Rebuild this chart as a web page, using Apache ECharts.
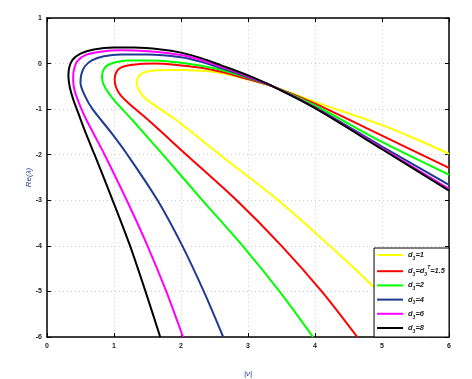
<!DOCTYPE html>
<html>
  <head>
    <meta charset="utf-8" />
    <title>Re(lambda) curves</title>
    <script src="https://cdnjs.cloudflare.com/ajax/libs/echarts/6.0.0/echarts.min.js"></script>
  </head>
  <body>
    <style>
      html, body { margin: 0; padding: 0; background: #fff; }
      #main { width: 472px; height: 379px; }
    </style>
    <div id="main"></div>
    <script type="text/javascript">

      // axis ticks
      var xTicks = [0, 1, 2, 3, 4, 5, 6];
      var yTicks = [-6, -5, -4, -3, -2, -1, 0, 1];

      // legend labels and colours
      var names = ['d3=1', 'd3=d3T=1.5', 'd3=2', 'd3=4', 'd3=6', 'd3=8'];
      var colors = ['#ffff00', '#ff0000', '#00ff00', '#1f3a93', '#ff00ff', '#000000'];

      // curves: bottom of lower branch -> nose -> upper branch to x=6
      var curveD1 = [[5.64,-6],[4.95,-5],[4.22,-4],[3.45,-3],[2.58,-2],[1.94,-1.25],[1.75,-1.06],
        [1.57,-0.88],[1.45,-0.74],[1.37,-0.58],[1.34,-0.42],[1.36,-0.3],[1.44,-0.2],[1.6,-0.15],
        [2.0,-0.14],[2.3,-0.16],[2.6,-0.21],[3.0,-0.35],[3.37,-0.5],[4.0,-0.84],[5.0,-1.35],
        [5.5,-1.65],[6.0,-1.98]];
      var curveD15 = [[4.63,-6],[4.1,-5],[3.5,-4],[2.83,-3],[2.08,-2],[1.52,-1.25],[1.24,-0.9],
        [1.1,-0.7],[1.03,-0.52],[1.01,-0.35],[1.03,-0.2],[1.1,-0.09],[1.25,-0.03],[1.6,0.0],
        [2.0,-0.04],[2.3,-0.09],[2.6,-0.18],[3.0,-0.34],[3.37,-0.5],[4.0,-0.88],[5.0,-1.58],[6.0,-2.29]];
      var curveD2 = [[3.97,-6],[3.47,-5],[2.92,-4],[2.32,-3],[1.73,-2],[1.28,-1.25],[1.03,-0.85],
        [0.92,-0.65],[0.85,-0.48],[0.82,-0.3],[0.84,-0.15],[0.9,-0.04],[1.02,0.03],[1.2,0.07],
        [1.6,0.07],[2.0,0.02],[2.3,-0.05],[2.6,-0.14],[3.0,-0.31],[3.37,-0.5],[4.0,-0.92],
        [5.0,-1.72],[6.0,-2.44]];
      var curveD4 = [[2.63,-6],[2.34,-5],[2.02,-4],[1.65,-3],[1.2,-2],[0.95,-1.5],[0.68,-1.0],
        [0.57,-0.72],[0.5,-0.42],[0.51,-0.25],[0.56,-0.07],[0.67,0.07],[0.85,0.16],[1.1,0.2],
        [1.5,0.2],[2.0,0.14],[2.3,0.04],[2.6,-0.1],[3.0,-0.3],[3.37,-0.5],[4.0,-0.96],
        [5.0,-1.82],[6.0,-2.66]];
      var curveD6 = [[2.03,-6],[1.78,-5],[1.5,-4],[1.19,-3],[0.86,-2],[0.7,-1.55],[0.56,-1.15],
        [0.46,-0.8],[0.41,-0.58],[0.39,-0.35],[0.4,-0.15],[0.45,0.05],[0.58,0.19],[0.8,0.26],
        [1.1,0.29],[1.5,0.27],[2.0,0.19],[2.3,0.08],[2.6,-0.07],[3.0,-0.28],[3.37,-0.5],
        [4.0,-0.97],[5.0,-1.86],[6.0,-2.75]];
      var curveD8 = [[1.69,-6],[1.47,-5],[1.24,-4],[0.98,-3],[0.71,-2],[0.585,-1.55],[0.47,-1.1],
        [0.39,-0.78],[0.34,-0.52],[0.32,-0.28],[0.33,-0.1],[0.38,0.08],[0.5,0.22],[0.7,0.31],
        [1.0,0.35],[1.3,0.35],[1.7,0.31],[2.0,0.24],[2.3,0.12],[2.6,-0.04],[3.0,-0.26],
        [3.37,-0.5],[4.0,-0.98],[5.0,-1.88],[6.0,-2.79]];

      var curves = [curveD1, curveD15, curveD2, curveD4, curveD6, curveD8];

      var chartDom = document.getElementById('main');
      var myChart = echarts.init(chartDom);

      var tickFont = { fontSize: 7, fontWeight: 'bold', color: '#222', fontFamily: 'Liberation Sans' };

      // d3 with a subscript 3 (and a T on the critical one)
      function legendText(name) {
        if (name === 'd3=d3T=1.5') {
          return '{i|d}{s|3}{i|=d}{s|3}{t|T}{i|=1.5}';
        }
        return '{i|d}{s|3}{i|=' + name.split('=')[1] + '}';
      }

      var series = curves.map(function (c, i) {
        return {
          name: names[i],
          type: 'line',
          data: c,
          showSymbol: false,
          symbol: 'none',
          smooth: 0.3,
          lineStyle: { color: colors[i], width: 2 },
          itemStyle: { color: colors[i] },
          z: 2 + i
        };
      });

      var frameAxis = {
        axisLine: { onZero: false, lineStyle: { color: '#000', width: 1.5 } },
        axisTick: { inside: true, length: 4, lineStyle: { color: '#000' } },
        axisLabel: { show: false },
        splitLine: { show: false }
      };

      var option = {
        animation: false,
        grid: { left: 47, right: 23, top: 18, bottom: 42, containLabel: false, outerBoundsMode: 'none' },
        legend: {
          orient: 'vertical',
          right: 23,
          bottom: 42,
          icon: 'rect',
          itemWidth: 26,
          itemHeight: 2,
          itemGap: 4.2,
          padding: [3, 4, 3, 3],
          backgroundColor: '#fff',
          borderColor: '#000',
          borderWidth: 1,
          borderRadius: 0,
          z: 10,
          data: names,
          formatter: legendText,
          textStyle: {
            fontFamily: 'Liberation Sans',
            rich: {
              i: { fontSize: 7.5, fontWeight: 'bold', fontStyle: 'italic', color: '#222', lineHeight: 12 },
              s: { fontSize: 5, fontWeight: 'bold', fontStyle: 'italic', color: '#222', verticalAlign: 'bottom', lineHeight: 8, padding: [4, 0, 0, 0] },
              t: { fontSize: 5, fontWeight: 'bold', fontStyle: 'italic', color: '#222', verticalAlign: 'top', lineHeight: 8 }
            }
          }
        },
        xAxis: [
          {
            type: 'value',
            min: xTicks[0],
            max: xTicks[xTicks.length - 1],
            interval: 1,
            name: '|ν|',
            nameLocation: 'middle',
            nameGap: 33,
            nameMoveOverlap: false,
            nameTextStyle: { fontSize: 8, fontStyle: 'italic', color: '#2a3f8f', fontFamily: 'Liberation Sans' },
            axisLine: { onZero: false, lineStyle: { color: '#000', width: 1.5 } },
            axisTick: { inside: true, length: 4, lineStyle: { color: '#000' } },
            axisLabel: Object.assign({ margin: 6 }, tickFont),
            splitLine: { show: true, lineStyle: { color: '#d0d0d0', type: [1, 3], width: 1 } }
          },
          Object.assign({
            type: 'value',
            position: 'top',
            min: xTicks[0],
            max: xTicks[xTicks.length - 1],
            interval: 1
          }, frameAxis)
        ],
        yAxis: [
          {
            type: 'value',
            min: yTicks[0],
            max: yTicks[yTicks.length - 1],
            interval: 1,
            name: 'Re(λ)',
            nameLocation: 'middle',
            nameGap: 14,
            nameMoveOverlap: false,
            nameTextStyle: { fontSize: 8, fontStyle: 'italic', color: '#2a3f8f', fontFamily: 'Liberation Sans' },
            axisLine: { onZero: false, lineStyle: { color: '#000', width: 1.5 } },
            axisTick: { inside: true, length: 4, lineStyle: { color: '#000' } },
            axisLabel: Object.assign({ margin: 5 }, tickFont),
            splitLine: { show: true, lineStyle: { color: '#d0d0d0', type: [1, 3], width: 1 } }
          },
          Object.assign({
            type: 'value',
            position: 'right',
            min: yTicks[0],
            max: yTicks[yTicks.length - 1],
            interval: 1
          }, frameAxis)
        ],
        series: series
      };

      myChart.setOption(option);
    </script>
  </body>
</html>
